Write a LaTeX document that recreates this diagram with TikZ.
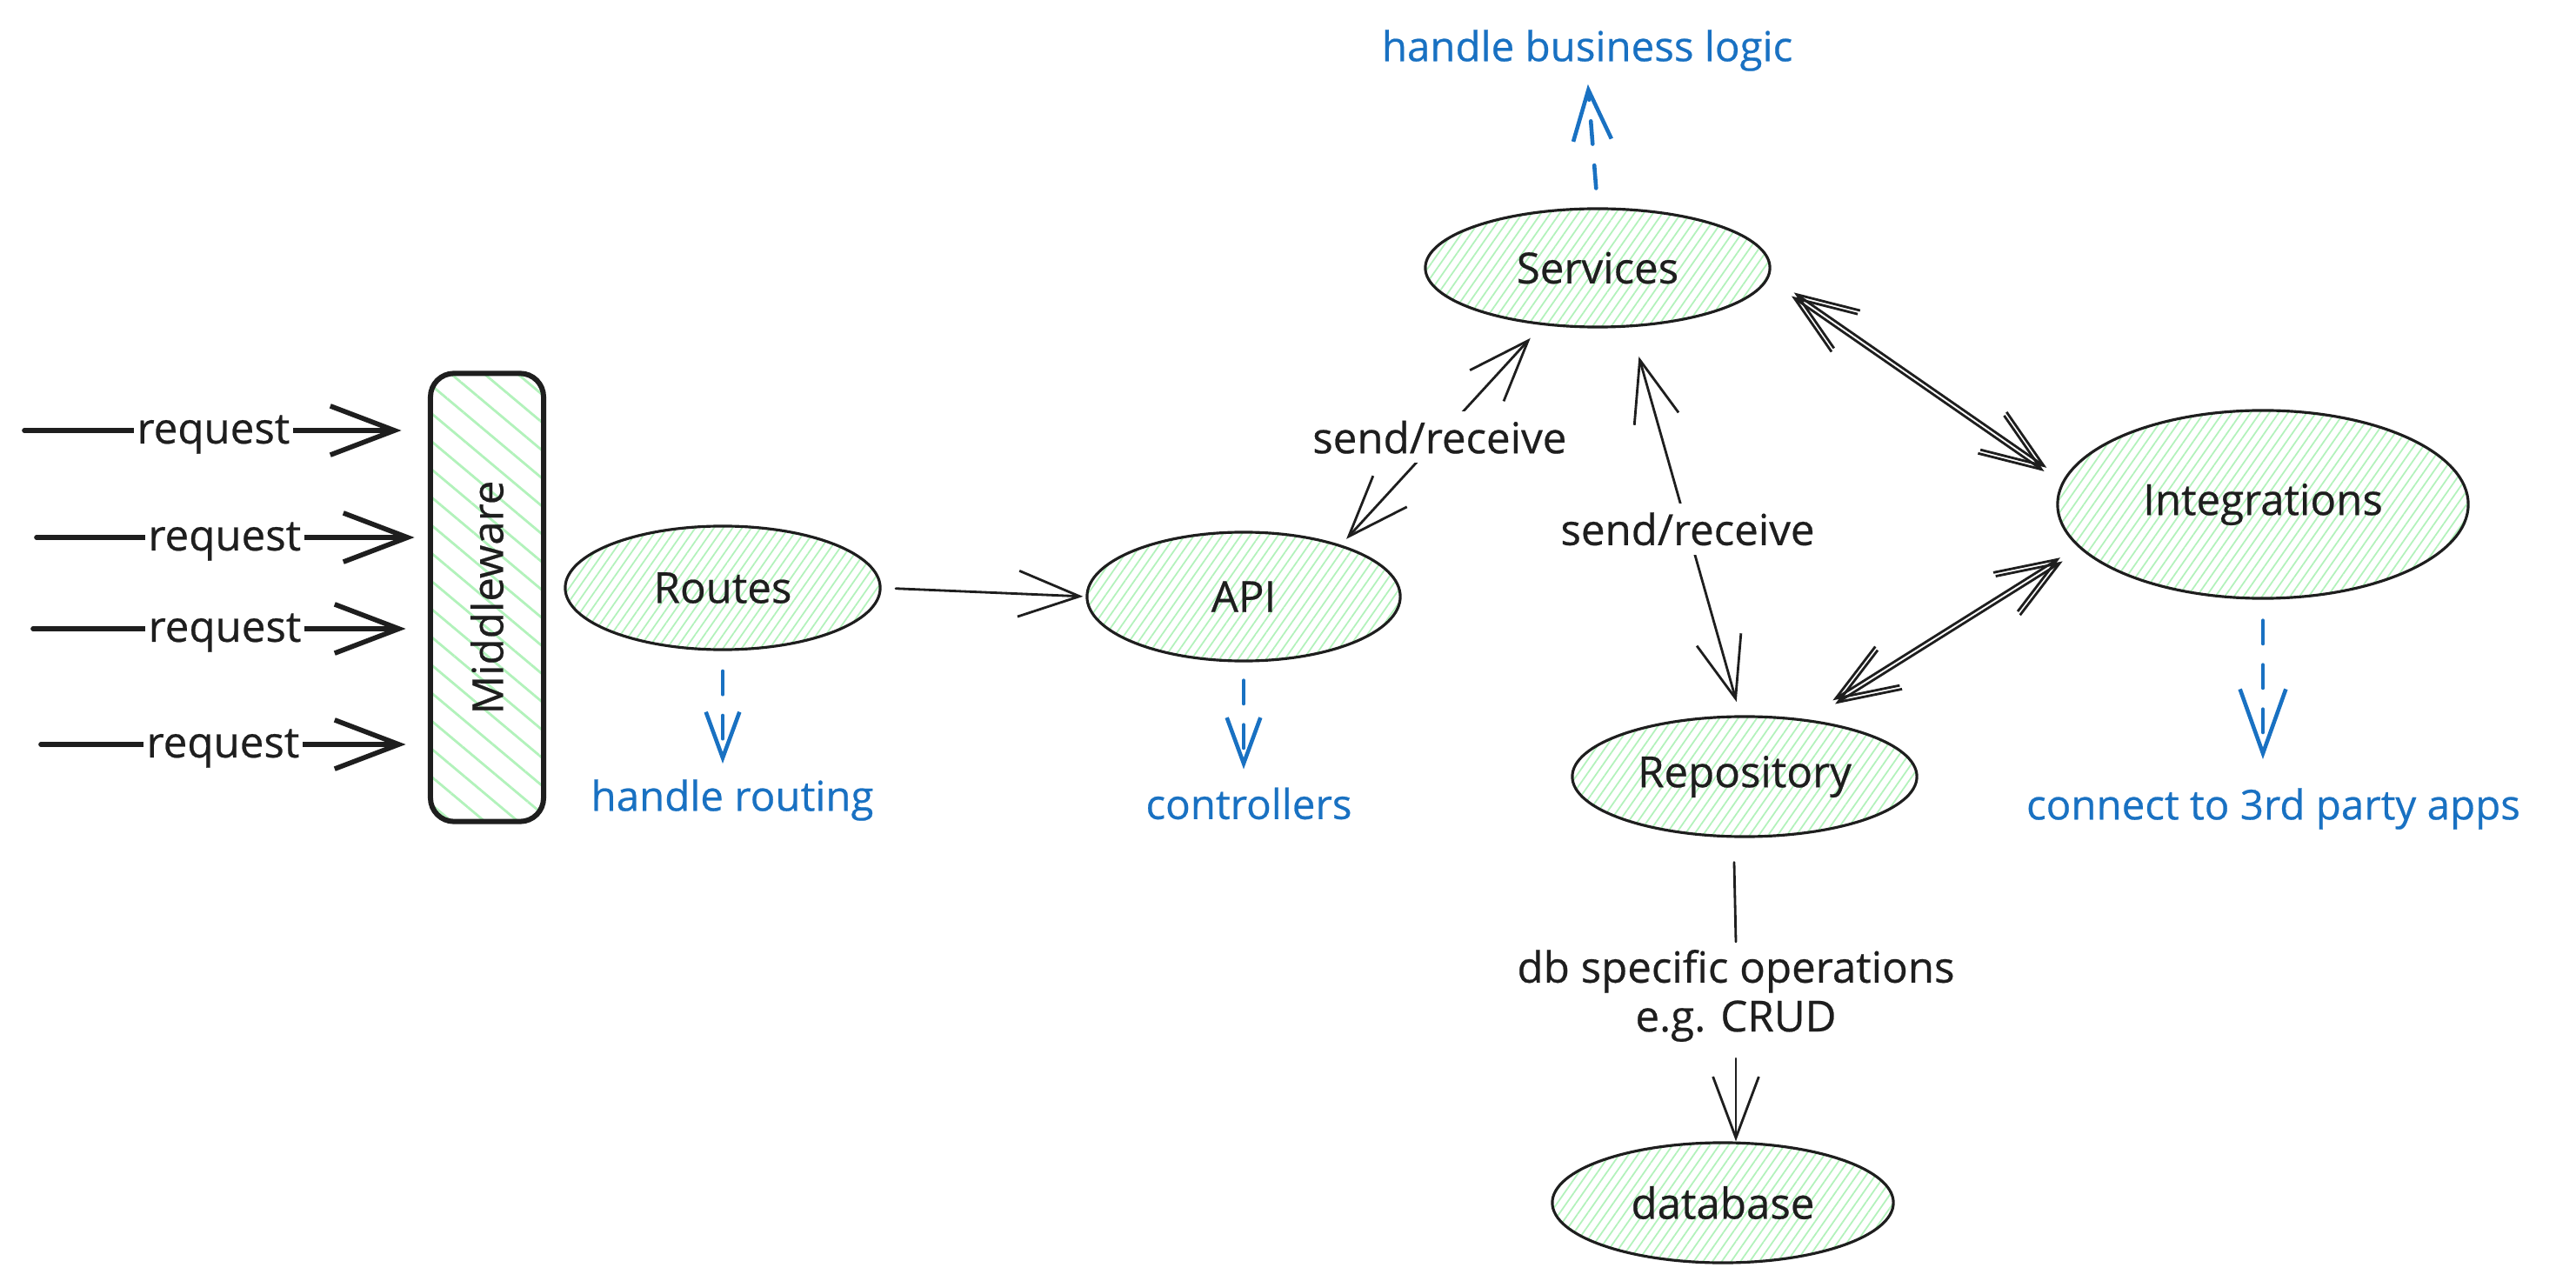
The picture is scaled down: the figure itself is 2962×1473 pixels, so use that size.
\documentclass[tikz,border=0pt]{standalone}
\usepackage{graphicx}
\usepackage{fontspec}
\setmainfont{Open Sans}[FakeBold=0.5]
\usetikzlibrary{arrows.meta,patterns.meta,shapes.geometric,calc}
\definecolor{ink}{HTML}{1E1E1E}
\definecolor{bluetxt}{HTML}{1971C2}
\definecolor{hatch}{HTML}{B2F2BB}
\begin{document}
\begin{tikzpicture}[x=0.01cm,y=-0.01cm,
  font=\fontsize{14}{16}\selectfont,
  ell/.style={ellipse, draw=ink, line width=0.9pt, inner sep=0pt, text=ink,
    pattern={Lines[angle=55,distance=2.5pt,line width=0.5pt]}, pattern color=hatch},
  mwbox/.style={rectangle, rounded corners=0.27cm, draw=ink, line width=1.7pt, inner sep=0pt, text=ink,
    minimum width=1.30cm, minimum height=5.15cm,
    pattern={Lines[angle=-40,distance=7pt,line width=0.8pt]}, pattern color=hatch},
  lbl/.style={text=ink, inner sep=3pt},
  reqlbl/.style={text=ink, fill=white, inner xsep=1pt, inner ysep=2pt, yshift=-1.3pt},
  blbl/.style={text=bluetxt, inner sep=1pt, font=\fontsize{13.5}{16}\selectfont},
  conn/.style={draw=ink, line width=0.8pt, line cap=round, line join=round,
    >={Straight Barb[length=20pt,width=15pt]}},
  req/.style={draw=ink, line width=1.6pt, line cap=round, line join=round,
    >={Straight Barb[length=21pt,width=16pt]}, ->},
  bluedash/.style={draw=bluetxt, line width=1.3pt, line cap=round, line join=round,
    dash pattern=on 7.5pt off 7pt, >={Straight Barb[length=15pt,width=11pt]}, ->}
]
\useasboundingbox (0,0) rectangle (2962,1473);

% nodes
\node[mwbox] (mw) at (560,687) {\rotatebox{90}{Middleware}};
\node[ell, minimum width=3.62cm, minimum height=1.42cm] (routes) at (831,676) {Routes};
\node[ell, minimum width=3.60cm, minimum height=1.48cm] (api) at (1430,686) {API};
\node[ell, minimum width=3.96cm, minimum height=1.36cm] (svc) at (1837,308) {Services};
\node[ell, minimum width=4.72cm, minimum height=2.16cm] (integ) at (2602,580) {Integrations};
\node[ell, minimum width=3.96cm, minimum height=1.38cm] (repo) at (2006,893) {Repository};
\node[ell, minimum width=3.92cm, minimum height=1.38cm] (db) at (1981,1383) {database};

\node[blbl] (hr) at (842,920) {handle routing};
\node[blbl] (ctl) at (1436,924) {controllers};
\node[blbl] (hbl) at (1825,58) {handle business logic};
\node[blbl] (c3p) at (2614,930) {connect to 3rd party apps};
\node[lbl, align=center, inner sep=1pt] (dbl) at (1996,1145) {db specific operations\\e.g. CRUD};

% request arrows
\coordinate (q1) at (28,495);
\coordinate (q2) at (42,618);
\coordinate (q3) at (38,723);
\coordinate (q4) at (47,856);
\draw[req, shorten >=0.32cm] (q1) -- node[reqlbl, pos=0.467] (rq1) {request} (q1 -| mw.west);
\draw[req, shorten >=0.17cm] (q2) -- node[reqlbl, pos=0.479] (rq2) {request} (q2 -| mw.west);
\draw[req, shorten >=0.27cm] (q3) -- node[reqlbl, pos=0.484] (rq3) {request} (q3 -| mw.west);
\draw[req, shorten >=0.27cm] (q4) -- node[reqlbl, pos=0.469] (rq4) {request} (q4 -| mw.west);

% routes -> api
\draw[conn, ->, shorten <=0.17cm, shorten >=0.03cm] (routes.east) -- (api.west);

% blue dashed notes
\draw[bluedash, shorten <=0.24cm, shorten >=0.14cm] (routes.south) -- (routes.south |- hr.north);
\draw[bluedash, shorten <=0.21cm, shorten >=0.17cm] (api.south) -- (api.south |- ctl.north);
\draw[bluedash, >={Straight Barb[length=16.5pt,width=12.5pt]}, shorten <=0.22cm, shorten >=0.11cm] (svc.north) -- (hbl.south);
\draw[bluedash, >={Straight Barb[length=21pt,width=15pt]}, shorten <=0.24cm, shorten >=0.29cm] (integ.south) -- (integ.south |- c3p.north);

% send/receive connectors
\draw[conn, <->, shorten <=0.09cm, shorten >=0.2cm] (api.28) -- node[lbl, fill=white, pos=0.49] (sr1) {send/receive} (svc.226);
\draw[conn, <->, shorten <=0.35cm, shorten >=0.16cm] (svc.-61) -- node[lbl, fill=white, pos=0.52] (sr2) {send/receive} (repo.94);

% double-stroke connectors to Integrations
\draw[conn, <->, shorten <=0.33cm, shorten >=0.24cm] (svc.-4.5) -- (integ.174);
\draw[conn, <->, shorten <=0.33cm, shorten >=0.24cm, transform canvas={shift={(0.028cm,0.041cm)}}] (svc.-4.5) -- (integ.174);
\draw[conn, <->, shorten <=0.34cm, shorten >=0.25cm] (repo.41) -- (integ.194);
\draw[conn, <->, shorten <=0.34cm, shorten >=0.25cm, transform canvas={shift={(-0.027cm,0.042cm)}}] (repo.41) -- (integ.194);

% repository -> database
\draw[conn] ([xshift=-0.12cm, yshift=-0.28cm]repo.south) -- ([yshift=0.05cm]dbl.north);
\draw[conn, ->, shorten <=0.15cm] (dbl.south) -- (dbl.south |- db.north);
\end{tikzpicture}
\end{document}
